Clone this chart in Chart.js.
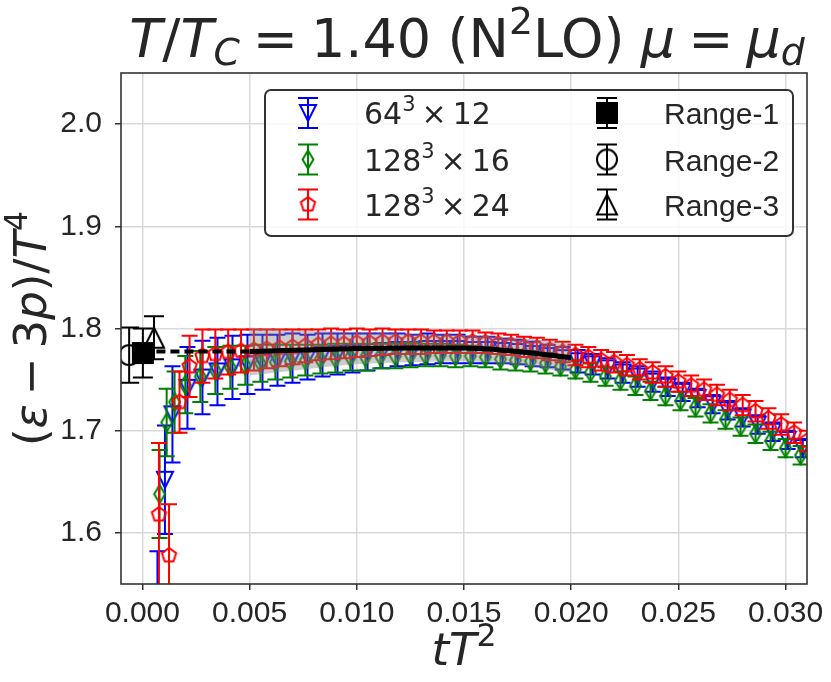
<!DOCTYPE html>
<html lang="en">
<head>
    <meta charset="UTF-8">
    <title>Trace anomaly vs flow time</title>
    <script src="https://cdn.jsdelivr.net/npm/chart.js"></script>
    <style>
        html, body { margin: 0; padding: 0; background: #fff; }
        #wrap { width: 831px; height: 682px; }
    </style>
</head>
<body>
<div id="wrap"><canvas id="chart" width="831" height="682"></canvas></div>
<script>
    // axis ticks
    const xTicks = [0, 0.005, 0.010, 0.015, 0.020, 0.025, 0.030];
    const xTickLabels = ['0.000', '0.005', '0.010', '0.015', '0.020', '0.025', '0.030'];
    const yTicks = [1.6, 1.7, 1.8, 1.9, 2.0];
    const yTickLabels = ['1.6', '1.7', '1.8', '1.9', '2.0'];

    // 64^3 x 12
    const blueX = [0.0007, 0.00105, 0.0014, 0.0021, 0.0028, 0.0035, 0.0042, 0.0049, 0.0056, 0.0063,
        0.0070, 0.0077, 0.0084, 0.0091, 0.0098, 0.0105, 0.0112, 0.0119, 0.0126, 0.0133,
        0.0140, 0.0147, 0.0154, 0.0161, 0.0168, 0.0175, 0.0182, 0.0189, 0.0196, 0.0203,
        0.0210, 0.0217, 0.0224, 0.0231, 0.0238, 0.0245, 0.0252, 0.0259, 0.0266, 0.0273,
        0.0280, 0.0287, 0.0294, 0.0301, 0.0308];
    const blueY = [1.520, 1.652, 1.716, 1.742, 1.752, 1.758, 1.762, 1.765, 1.767, 1.769,
        1.771, 1.772, 1.774, 1.775, 1.776, 1.777, 1.778, 1.779, 1.779, 1.780,
        1.780, 1.780, 1.779, 1.779, 1.778, 1.777, 1.775, 1.773, 1.771, 1.768,
        1.765, 1.761, 1.757, 1.753, 1.748, 1.743, 1.738, 1.732, 1.726, 1.720,
        1.713, 1.706, 1.699, 1.691, 1.683];
    const blueErr = [0.062, 0.053, 0.047, 0.040, 0.036, 0.033, 0.031, 0.029, 0.027, 0.025,
        0.024, 0.022, 0.021, 0.020, 0.019, 0.018, 0.017, 0.016, 0.015, 0.015,
        0.014, 0.014, 0.013, 0.013, 0.012, 0.012, 0.012, 0.011, 0.011, 0.011,
        0.010, 0.010, 0.010, 0.010, 0.010, 0.009, 0.009, 0.009, 0.009, 0.009,
        0.009, 0.009, 0.009, 0.009, 0.009];

    // 128^3 x 16
    const greenX = [0.0008, 0.00113, 0.0015, 0.0020, 0.0027, 0.0034, 0.0041, 0.0048, 0.0055, 0.0062,
        0.0069, 0.0076, 0.0083, 0.0090, 0.0097, 0.0104, 0.0111, 0.0118, 0.0125, 0.0132,
        0.0139, 0.0146, 0.0153, 0.0160, 0.0167, 0.0174, 0.0181, 0.0188, 0.0195, 0.0202,
        0.0209, 0.0216, 0.0223, 0.0230, 0.0237, 0.0244, 0.0251, 0.0258, 0.0265, 0.0272,
        0.0279, 0.0286, 0.0293, 0.0300, 0.0307];
    const greenY = [1.638, 1.708, 1.728, 1.745, 1.753, 1.759, 1.762, 1.764, 1.766, 1.767,
        1.768, 1.769, 1.770, 1.771, 1.772, 1.772, 1.773, 1.773, 1.774, 1.774,
        1.774, 1.773, 1.773, 1.772, 1.770, 1.769, 1.768, 1.766, 1.763, 1.760,
        1.757, 1.753, 1.749, 1.744, 1.739, 1.734, 1.729, 1.723, 1.717, 1.711,
        1.704, 1.697, 1.690, 1.683, 1.676];
    const greenErr = [0.043, 0.033, 0.030, 0.028, 0.025, 0.023, 0.021, 0.019, 0.018, 0.017,
        0.016, 0.015, 0.014, 0.014, 0.013, 0.013, 0.012, 0.012, 0.012, 0.011,
        0.011, 0.011, 0.010, 0.010, 0.010, 0.010, 0.010, 0.010, 0.009, 0.009,
        0.009, 0.009, 0.009, 0.009, 0.009, 0.009, 0.009, 0.009, 0.009, 0.009,
        0.009, 0.009, 0.009, 0.009, 0.009];

    // 128^3 x 24
    const redX = [0.00077, 0.00124, 0.00173, 0.0022, 0.0028, 0.0034, 0.0040, 0.0046, 0.0052, 0.0058,
        0.0064, 0.0070, 0.0076, 0.0082, 0.0088, 0.0094, 0.0100, 0.0106, 0.0112, 0.0118,
        0.0124, 0.0130, 0.0136, 0.0142, 0.0148, 0.0154, 0.0160, 0.0166, 0.0172, 0.0178,
        0.0184, 0.0190, 0.0196, 0.0202, 0.0208, 0.0214, 0.0220, 0.0226, 0.0232, 0.0238,
        0.0244, 0.0250, 0.0256, 0.0262, 0.0268, 0.0274, 0.0280, 0.0286, 0.0292, 0.0298,
        0.0304, 0.0310];
    const redY = [1.618, 1.578, 1.728, 1.763, 1.773, 1.775, 1.777, 1.778, 1.779, 1.780,
        1.781, 1.782, 1.783, 1.784, 1.785, 1.785, 1.786, 1.786, 1.787, 1.787,
        1.787, 1.787, 1.787, 1.787, 1.787, 1.787, 1.786, 1.785, 1.784, 1.782,
        1.781, 1.779, 1.777, 1.774, 1.772, 1.769, 1.767, 1.764, 1.760, 1.757,
        1.753, 1.748, 1.744, 1.740, 1.735, 1.730, 1.725, 1.719, 1.712, 1.706,
        1.698, 1.690];
    const redErr = [0.070, 0.050, 0.030, 0.030, 0.026, 0.024, 0.022, 0.021, 0.020, 0.019,
        0.018, 0.017, 0.016, 0.015, 0.015, 0.014, 0.014, 0.013, 0.013, 0.012,
        0.012, 0.012, 0.011, 0.011, 0.011, 0.011, 0.010, 0.010, 0.010, 0.010,
        0.010, 0.010, 0.010, 0.010, 0.010, 0.010, 0.010, 0.010, 0.010, 0.010,
        0.010, 0.010, 0.010, 0.010, 0.010, 0.010, 0.010, 0.010, 0.010, 0.010,
        0.010, 0.010];

    // continuum fit with band, and its dashed extrapolation to tT^2 = 0
    const fitX = [0.005, 0.0075, 0.010, 0.0125, 0.015, 0.0175, 0.020];
    const fitY = [1.7775, 1.779, 1.7805, 1.781, 1.781, 1.7775, 1.7715];
    const bandHigh = [1.801, 1.798, 1.7965, 1.795, 1.794, 1.791, 1.786];
    const bandLow = [1.754, 1.760, 1.765, 1.767, 1.768, 1.764, 1.757];
    const extrapX = [0.0, 0.005];
    const extrapY = [1.7775, 1.7775];

    // tT^2 -> 0 results for the three fit ranges
    const rangeNames = ['Range-1', 'Range-2', 'Range-3'];
    const rangeX = [0.00002, -0.00062, 0.00054];
    const rangeY = [1.776, 1.774, 1.791];
    const rangeErr = [0.024, 0.027, 0.021];

    const latticeL = ['64', '128', '128'];
    const latticeNt = ['12', '16', '24'];

    const TEXT = '#262626';
    const MATH = '"DejaVu Sans", sans-serif';
    const SANS = '"Liberation Sans", Arial, sans-serif';

    function pts(xs, ys) {
        return xs.map((x, i) => ({ x: x, y: ys[i] }));
    }

    function makeMarker(kind, color, size, filled) {
        const S = size + 6;
        const c = document.createElement('canvas');
        c.width = S; c.height = S;
        const g = c.getContext('2d');
        g.translate(S / 2, S / 2);
        g.strokeStyle = color;
        g.fillStyle = color;
        g.lineWidth = 2;
        const r = size / 2;
        g.beginPath();
        if (kind === 'triDown') {
            g.moveTo(-r, -r); g.lineTo(r, -r); g.lineTo(0, r); g.closePath();
        } else if (kind === 'triUp') {
            g.moveTo(-r, r); g.lineTo(r, r); g.lineTo(0, -r); g.closePath();
        } else if (kind === 'thinDiamond') {
            g.moveTo(0, -r); g.lineTo(r * 0.6, 0); g.lineTo(0, r); g.lineTo(-r * 0.6, 0); g.closePath();
        } else if (kind === 'pentagon') {
            for (let k = 0; k < 5; k++) {
                const a = -Math.PI / 2 + k * 2 * Math.PI / 5;
                if (k === 0) g.moveTo(r * Math.cos(a), r * Math.sin(a));
                else g.lineTo(r * Math.cos(a), r * Math.sin(a));
            }
            g.closePath();
        } else if (kind === 'square') {
            g.rect(-r, -r, 2 * r, 2 * r);
        } else if (kind === 'circle') {
            g.arc(0, 0, r, 0, 2 * Math.PI);
        }
        if (filled) g.fill();
        g.stroke();
        return c;
    }

    const markers = {
        blue: makeMarker('triDown', '#0000ff', 16, false),
        green: makeMarker('thinDiamond', '#008000', 18, false),
        red: makeMarker('pentagon', '#ff0000', 15, false),
        r1: makeMarker('square', '#000000', 20, true),
        r2: makeMarker('circle', '#000000', 20, false),
        r3: makeMarker('triUp', '#000000', 20, false)
    };

    function series(label, xs, ys, errs, color, marker, order) {
        return {
            label: label,
            data: pts(xs, ys),
            errors: errs,
            capHalf: 8,
            borderColor: color,
            backgroundColor: color,
            pointStyle: marker,
            pointRadius: 8,
            showLine: false,
            order: order
        };
    }

    const datasets = [
        series('64³ × 12', blueX, blueY, blueErr, '#0000ff', markers.blue, 10),
        series('128³ × 16', greenX, greenY, greenErr, '#008000', markers.green, 9),
        series('128³ × 24', redX, redY, redErr, '#ff0000', markers.red, 8),
        {
            type: 'line', label: 'band-high', data: pts(fitX, bandHigh),
            fill: '+1', backgroundColor: 'rgba(128,128,128,0.4)', borderColor: 'transparent',
            borderWidth: 0, pointRadius: 0, cubicInterpolationMode: 'monotone', order: 5
        },
        {
            type: 'line', label: 'band-low', data: pts(fitX, bandLow),
            fill: false, borderColor: 'transparent', borderWidth: 0, pointRadius: 0,
            cubicInterpolationMode: 'monotone', order: 5
        },
        {
            type: 'line', label: 'fit', data: pts(fitX, fitY), fill: false,
            borderColor: '#000', borderWidth: 5, pointRadius: 0,
            cubicInterpolationMode: 'monotone', order: 4
        },
        {
            type: 'line', label: 'extrapolation', data: pts(extrapX, extrapY), fill: false,
            borderColor: '#000', borderWidth: 4, borderDash: [9, 5], pointRadius: 0, order: 4
        }
    ];
    const rangeMarkers = [markers.r1, markers.r2, markers.r3];
    rangeNames.forEach((name, i) => {
        datasets.push({
            label: name,
            data: [{ x: rangeX[i], y: rangeY[i] }],
            errors: [rangeErr[i]],
            capHalf: 10,
            borderColor: '#000',
            backgroundColor: '#000',
            pointStyle: rangeMarkers[i],
            pointRadius: 10,
            showLine: false,
            order: 3 - i
        });
    });

    // error bars go under each dataset's markers
    const errorBars = {
        id: 'errorBars',
        beforeDatasetDraw(chart, args) {
            const ds = chart.data.datasets[args.index];
            if (!ds.errors) return;
            const { ctx, chartArea: a, scales: { x, y } } = chart;
            ctx.save();
            ctx.beginPath();
            ctx.rect(a.left, a.top, a.right - a.left, a.bottom - a.top);
            ctx.clip();
            ctx.strokeStyle = ds.borderColor;
            ctx.lineWidth = 2;
            ds.data.forEach((p, i) => {
                const e = ds.errors[i];
                const px = x.getPixelForValue(p.x);
                const y1 = y.getPixelForValue(p.y + e);
                const y2 = y.getPixelForValue(p.y - e);
                const w = ds.capHalf;
                ctx.beginPath();
                ctx.moveTo(px, y1); ctx.lineTo(px, y2);
                ctx.moveTo(px - w, y1); ctx.lineTo(px + w, y1);
                ctx.moveTo(px - w, y2); ctx.lineTo(px + w, y2);
                ctx.stroke();
            });
            ctx.restore();
        }
    };

    const frame = {
        id: 'frame',
        afterDatasetsDraw(chart) {
            const { ctx, chartArea: a } = chart;
            ctx.save();
            ctx.strokeStyle = '#333333';
            ctx.lineWidth = 1.6;
            ctx.strokeRect(a.left, a.top, a.right - a.left, a.bottom - a.top);
            ctx.restore();
        }
    };

    // text with italic / super / subscript runs, like matplotlib mathtext.
    // {gap: em} inserts a math space instead of a glyph.
    function drawRich(ctx, runs, x0, baseline, size, align) {
        const parts = runs.map(r => {
            if (r.gap) return { r: r, w: r.gap * size };
            const s = (r.sup || r.sub) ? size * 0.7 : size;
            const font = (r.it ? 'italic ' : '') + s + 'px ' + (r.family || MATH);
            ctx.font = font;
            return { r: r, font: font, w: ctx.measureText(r.t).width };
        });
        const total = parts.reduce((acc, p) => acc + p.w, 0);
        let x = align === 'center' ? x0 - total / 2 : x0;
        ctx.textAlign = 'left';
        ctx.textBaseline = 'alphabetic';
        parts.forEach(p => {
            if (!p.r.gap) {
                ctx.font = p.font;
                const dy = p.r.sup ? -0.42 * size : (p.r.sub ? 0.15 * size : 0);
                ctx.fillText(p.r.t, x, baseline + dy);
            }
            x += p.w;
        });
    }

    const labels = {
        id: 'labels',
        afterDraw(chart) {
            const { ctx, chartArea: a } = chart;
            const cx = (a.left + a.right) / 2;
            ctx.save();
            ctx.fillStyle = TEXT;
            drawRich(ctx, [
                { t: 'T', it: 1 }, { t: '/' }, { t: 'T', it: 1 }, { t: 'C', it: 1, sub: 1 },
                { gap: 0.24 }, { t: '=' }, { gap: 0.24 }, { t: '1.40' }, { gap: 0.3 },
                { t: '(N' }, { t: '2', sup: 1 }, { t: 'LO)' }, { gap: 0.3 },
                { t: 'μ', it: 1 }, { gap: 0.24 }, { t: '=' }, { gap: 0.24 },
                { t: 'μ', it: 1 }, { t: 'd', it: 1, sub: 1 }
            ], cx + 3, 57, 54, 'center');

            drawRich(ctx, [{ t: 't', it: 1 }, { t: 'T', it: 1 }, { t: '2', sup: 1 }], cx, 665, 45, 'center');

            ctx.translate(46, (a.top + a.bottom) / 2);
            ctx.rotate(-Math.PI / 2);
            drawRich(ctx, [
                { t: '(' }, { t: 'ε', it: 1 }, { gap: 0.2 }, { t: '−' }, { gap: 0.2 }, { t: '3' },
                { t: 'p', it: 1 }, { t: ')/' }, { t: 'T', it: 1 }, { t: '4', sup: 1 }
            ], 0, 0, 45, 'center');
            ctx.restore();
        }
    };

    const legendBox = {
        id: 'legendBox',
        afterDraw(chart) {
            const { ctx, chartArea: a } = chart;
            const w = 528, h = 146;
            const left = a.right - 14 - w, top = a.top + 17;
            ctx.save();
            ctx.beginPath();
            ctx.roundRect(left, top, w, h, 6);
            ctx.fillStyle = 'rgba(255,255,255,0.8)';
            ctx.fill();
            ctx.strokeStyle = '#333333';
            ctx.lineWidth = 2;
            ctx.stroke();

            const rows = [top + 23, top + 69.5, top + 114.5];
            const entry = (mx, my, color, img, capHalf) => {
                ctx.strokeStyle = color;
                ctx.lineWidth = 2;
                ctx.beginPath();
                ctx.moveTo(mx, my - 15); ctx.lineTo(mx, my + 15);
                ctx.moveTo(mx - capHalf, my - 15); ctx.lineTo(mx + capHalf, my - 15);
                ctx.moveTo(mx - capHalf, my + 15); ctx.lineTo(mx + capHalf, my + 15);
                ctx.stroke();
                ctx.drawImage(img, mx - img.width / 2, my - img.height / 2);
            };
            const colors = ['#0000ff', '#008000', '#ff0000'];
            const imgs = [markers.blue, markers.green, markers.red];
            for (let i = 0; i < 3; i++) {
                entry(left + 43, rows[i], colors[i], imgs[i], 10);
                ctx.fillStyle = TEXT;
                drawRich(ctx, [{ t: latticeL[i] }, { t: '3', sup: 1 }, { gap: 0.2 }, { t: '×' },
                    { gap: 0.2 }, { t: latticeNt[i] }], left + 99, rows[i] + 11, 30, 'left');
                entry(left + 342, rows[i], '#000', rangeMarkers[i], 10);
                ctx.fillStyle = TEXT;
                ctx.font = '30px ' + SANS;
                ctx.textAlign = 'left';
                ctx.textBaseline = 'alphabetic';
                ctx.fillText(rangeNames[i], left + 399, rows[i] + 11);
            }
            ctx.restore();
        }
    };

    const tickFont = { family: SANS, size: 30 };

    new Chart(document.getElementById('chart'), {
        type: 'scatter',
        data: { datasets: datasets },
        options: {
            responsive: false,
            animation: false,
            devicePixelRatio: 1,
            layout: { padding: { top: 73, right: 24, bottom: 0, left: 0 } },
            plugins: {
                legend: { display: false },
                tooltip: { enabled: false },
                title: { display: false }
            },
            scales: {
                x: {
                    type: 'linear',
                    min: -0.001,
                    max: 0.031,
                    afterBuildTicks: s => { s.ticks = xTicks.map(v => ({ value: v })); },
                    afterFit: s => { s.height = 98; },
                    ticks: {
                        callback: (v, i) => xTickLabels[i],
                        font: tickFont, color: TEXT, padding: 6,
                        autoSkip: false, maxRotation: 0
                    },
                    grid: { color: '#d9d9d9', lineWidth: 1.5, tickColor: '#333333', tickLength: 6, tickWidth: 1.5 },
                    border: { display: false }
                },
                y: {
                    type: 'linear',
                    min: 1.55,
                    max: 2.05,
                    afterBuildTicks: s => { s.ticks = yTicks.map(v => ({ value: v })); },
                    afterFit: s => { s.width = 121; },
                    ticks: {
                        callback: (v, i) => yTickLabels[i],
                        font: tickFont, color: TEXT, padding: 13
                    },
                    grid: { color: '#d9d9d9', lineWidth: 1.5, tickColor: '#333333', tickLength: 6, tickWidth: 1.5 },
                    border: { display: false }
                }
            }
        },
        plugins: [errorBars, frame, labels, legendBox]
    });
</script>
</body>
</html>
